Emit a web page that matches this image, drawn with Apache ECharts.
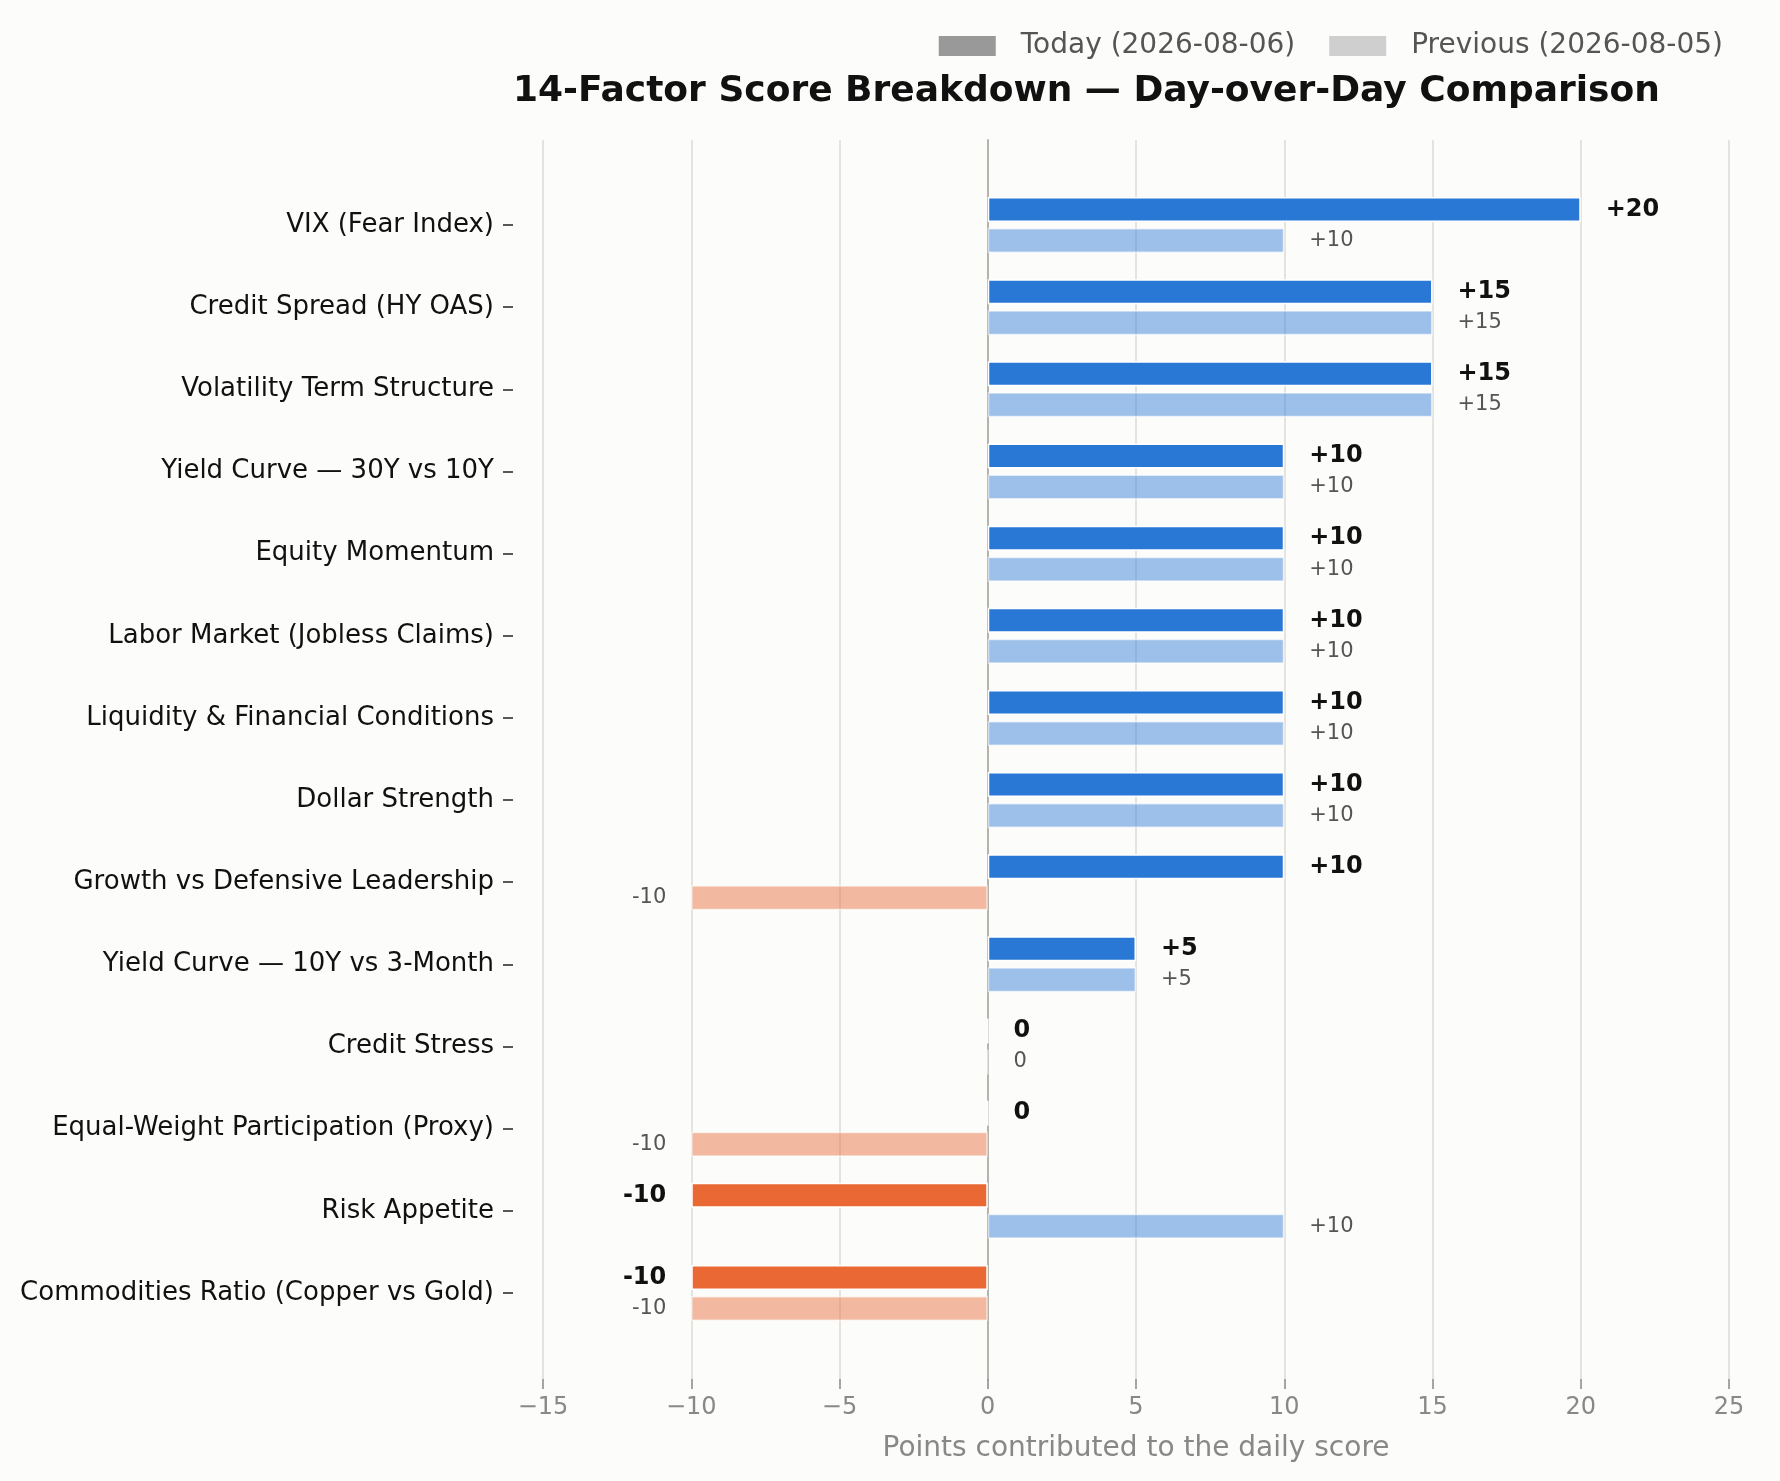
<!DOCTYPE html>
<html>
<head>
<meta charset="utf-8">
<script src="https://cdn.jsdelivr.net/npm/echarts@6/dist/echarts.min.js"></script>
<style>
  html, body { margin: 0; padding: 0; background: #fcfcfa; }
  #main { width: 1780px; height: 1481px; }
</style>
</head>
<body>
<div id="main"></div>
<script>
const factors = [
    'VIX (Fear Index)',
    'Credit Spread (HY OAS)',
    'Volatility Term Structure',
    'Yield Curve — 30Y vs 10Y',
    'Equity Momentum',
    'Labor Market (Jobless Claims)',
    'Liquidity & Financial Conditions',
    'Dollar Strength',
    'Growth vs Defensive Leadership',
    'Yield Curve — 10Y vs 3-Month',
    'Credit Stress',
    'Equal-Weight Participation (Proxy)',
    'Risk Appetite',
    'Commodities Ratio (Copper vs Gold)'
];
const today = [20, 15, 15, 10, 10, 10, 10, 10, 10, 5, 0, 0, -10, -10];
const previous = [10, 15, 15, 10, 10, 10, 10, 10, -10, 5, 0, -10, 10, -10];
const todayName = 'Today (2026-08-06)';
const prevName = 'Previous (2026-08-05)';

const FONT = 'DejaVu Sans';
let chart = echarts.init(document.getElementById('main'));

const fmt = v => v > 0 ? '+' + v : String(v);

// build per-bar items so negative bars get orange and a left label
function items(values, pos, neg, labelStyle) {
    return values.map(v => ({
        value: v,
        itemStyle: { color: v < 0 ? neg : pos },
        label: Object.assign({ position: v < 0 ? 'left' : 'right' }, labelStyle)
    }));
}

let option = {
    backgroundColor: '#fcfcfa',
    textStyle: { fontFamily: FONT },
    title: {
        text: '14-Factor Score Breakdown — Day-over-Day Comparison',
        left: 508,
        top: 69,
        textStyle: { fontFamily: FONT, fontSize: 36, fontWeight: 'bold', color: '#111' }
    },
    legend: {
        data: [todayName, prevName],
        icon: 'rect',
        right: 52,
        top: 27,
        itemWidth: 57,
        itemHeight: 20,
        itemGap: 34,
        itemStyle: { borderWidth: 0 },
        textStyle: { fontFamily: FONT, fontSize: 28, color: '#555', padding: [0, 0, 0, 20] }
    },
    grid: [
        { left: 543, right: 51, top: 140, bottom: 102 },
        { left: 543, right: 51, top: 184, bottom: 147 }
    ],
    xAxis: [
        {
            gridIndex: 0, type: 'value', min: -15, max: 25, interval: 5,
            name: 'Points contributed to the daily score',
            nameLocation: 'middle', nameGap: 56,
            nameTextStyle: { fontFamily: FONT, fontSize: 28, color: '#888' },
            axisLine: { show: false },
            axisTick: { show: true, length: 10, lineStyle: { color: '#888', width: 1.5 } },
            axisLabel: {
                margin: 17, fontFamily: FONT, fontSize: 24, color: '#888',
                formatter: v => v < 0 ? '\u2212' + Math.abs(v) : String(v)
            },
            splitLine: { show: true, lineStyle: { color: '#dcdbd4', width: 1.5 } }
        },
        {
            gridIndex: 1, type: 'value', min: -15, max: 25, interval: 5,
            show: false
        }
    ],
    yAxis: [
        {
            gridIndex: 0, type: 'value', min: 0, max: 1,
            axisLine: { show: true, onZero: true, lineStyle: { color: '#b4b4ac', width: 2 } },
            axisTick: { show: false },
            axisLabel: { show: false },
            splitLine: { show: false }
        },
        {
            gridIndex: 1, type: 'category', inverse: true, data: factors,
            offset: 30,
            axisLine: { show: false, onZero: false },
            axisTick: { show: true, alignWithLabel: true, length: 10, lineStyle: { color: '#222', width: 1.5 } },
            axisLabel: { margin: 19, fontFamily: FONT, fontSize: 26, color: '#111', padding: [7, 0, 0, 0] }
        }
    ],
    series: [
        {
            name: todayName,
            type: 'bar',
            xAxisIndex: 1, yAxisIndex: 1,
            barWidth: 25,
            barGap: '24%',
            itemStyle: { color: '#999999', borderColor: '#ffffff', borderWidth: 1.5 },
            label: { show: true, distance: 25, formatter: p => fmt(p.value) },
            data: items(today, '#2a78d6', '#e96834',
                { fontFamily: FONT, fontSize: 24, fontWeight: 'bold', color: '#111' })
        },
        {
            name: prevName,
            type: 'bar',
            xAxisIndex: 1, yAxisIndex: 1,
            barWidth: 25,
            barGap: '24%',
            itemStyle: { color: '#cfcfcf', borderColor: 'rgba(255,255,255,0.6)', borderWidth: 1.5 },
            label: { show: true, distance: 25, formatter: p => fmt(p.value) },
            data: items(previous, 'rgba(42,120,214,0.45)', 'rgba(233,104,52,0.45)',
                { fontFamily: FONT, fontSize: 21, color: '#555' })
        }
    ]
};

chart.setOption(option);

window.onresize = () => {
    chart.resize();
};
</script>
</body>
</html>
